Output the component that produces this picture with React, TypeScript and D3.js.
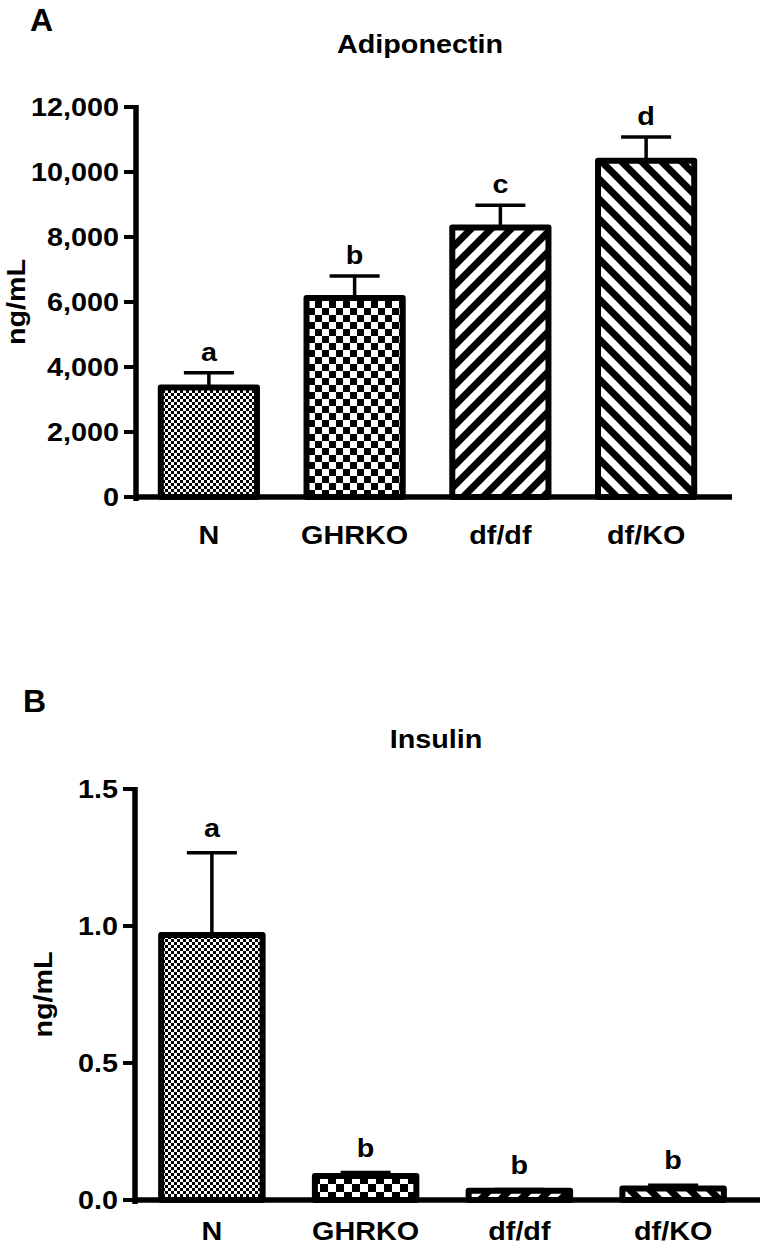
import React from "react";
import * as d3 from "d3";

// groups shared by both panels
const groups = ["N", "GHRKO", "df/df", "df/KO"];
const patternKeys = ["fine", "coarse", "fwd", "back"];

// Panel A: adiponectin (ng/mL)
const adipoMean = [3370, 6120, 8290, 10350];
const adipoSem = [450, 680, 690, 730];
const adipoLetters = ["a", "b", "c", "d"];
const adipoTicks = [0, 2000, 4000, 6000, 8000, 10000, 12000];

// Panel B: insulin (ng/mL)
const insulinMean = [0.967, 0.088, 0.034, 0.042];
const insulinSem = [0.3, 0.012, 0.004, 0.012];
const insulinLetters = ["a", "b", "b", "b"];
const insulinTicks = [0, 0.5, 1.0, 1.5];

const FONT = "'Liberation Sans', Arial, Helvetica, sans-serif";
const SX = 1.15; // the original text is a little wider than Arial

function Txt({ x, y, size = 25, anchor = "middle", rotate = 0, dy = "0", stretch = SX, children }: any) {
  return (
    <g transform={`translate(${x},${y}) rotate(${rotate}) scale(${stretch},1)`}>
      <text
        textAnchor={anchor}
        dy={dy}
        fontSize={size}
        fontWeight="bold"
        fontFamily={FONT}
        fill="#000"
      >
        {children}
      </text>
    </g>
  );
}

function Patterns({ id, fine, coarse, stripe }: any) {
  const p = stripe;
  return (
    <defs>
      <pattern id={`${id}-fine`} width={fine * 2} height={fine * 2} patternUnits="userSpaceOnUse">
        <rect width={fine * 2} height={fine * 2} fill="#fff" />
        <rect width={fine} height={fine} fill="#000" />
        <rect x={fine} y={fine} width={fine} height={fine} fill="#000" />
      </pattern>
      <pattern id={`${id}-coarse`} width={coarse * 2} height={coarse * 2} patternUnits="userSpaceOnUse">
        <rect width={coarse * 2} height={coarse * 2} fill="#fff" />
        <rect width={coarse} height={coarse} fill="#000" />
        <rect x={coarse} y={coarse} width={coarse} height={coarse} fill="#000" />
      </pattern>
      <pattern id={`${id}-fwd`} width={p} height={p} patternUnits="userSpaceOnUse">
        <rect width={p} height={p} fill="#fff" />
        <path
          d={`M0,${p} L${p},0 M${-p / 2},${p / 2} L${p / 2},${-p / 2} M${p / 2},${p * 1.5} L${p * 1.5},${p / 2}`}
          stroke="#000"
          strokeWidth={7}
        />
      </pattern>
      <pattern id={`${id}-back`} width={p} height={p} patternUnits="userSpaceOnUse">
        <rect width={p} height={p} fill="#fff" />
        <path
          d={`M0,0 L${p},${p} M${-p / 2},${p / 2} L${p / 2},${p * 1.5} M${p / 2},${-p / 2} L${p * 1.5},${p / 2}`}
          stroke="#000"
          strokeWidth={7}
        />
      </pattern>
    </defs>
  );
}

function Panel({
  id,
  panelLabel,
  panelLabelPos,
  title,
  titlePos,
  yLabelX,
  means,
  sems,
  letters,
  letterGap,
  ticks,
  fmt,
  yDomain,
  yRange,
  xRange,
  axisEnd,
  catY,
  fine,
  coarse,
}: any) {
  const x = d3.scaleBand().domain(groups).range(xRange).paddingInner(0.34).paddingOuter(0.17);
  const y = d3.scaleLinear().domain(yDomain).range(yRange);
  const axisX = xRange[0];
  const y0 = y(0);

  return (
    <g>
      <Patterns id={id} fine={fine} coarse={coarse} stripe={20} />
      <Txt x={panelLabelPos[0]} y={panelLabelPos[1]} size={32} anchor="start" stretch={1}>
        {panelLabel}
      </Txt>
      <Txt x={titlePos[0]} y={titlePos[1]}>{title}</Txt>
      <Txt x={yLabelX} y={(yRange[0] + yRange[1]) / 2} rotate={-90}>
        ng/mL
      </Txt>

      {/* error bars (upper only), drawn under the bars */}
      {groups.map((g, i) => {
        const cx = x(g)! + x.bandwidth() / 2;
        const top = y(means[i] + sems[i]);
        return (
          <g key={g} stroke="#000" strokeWidth={3.5}>
            <line x1={cx} x2={cx} y1={y(means[i])} y2={top} />
            <line x1={cx - 25} x2={cx + 25} y1={top} y2={top} />
          </g>
        );
      })}

      {groups.map((g, i) => (
        <rect
          key={g}
          x={x(g)}
          y={y(means[i])}
          width={x.bandwidth()}
          height={y0 - y(means[i])}
          fill={`url(#${id}-${patternKeys[i]})`}
          stroke="#000"
          strokeWidth={6}
          strokeLinejoin="round"
        />
      ))}

      {groups.map((g, i) => (
        <Txt key={g} x={x(g)! + x.bandwidth() / 2} y={y(means[i] + sems[i]) - letterGap}>
          {letters[i]}
        </Txt>
      ))}

      {/* axes */}
      <line x1={axisX} x2={axisX} y1={y0 + 4} y2={y(yDomain[1]) - 2} stroke="#000" strokeWidth={5.5} />
      <line x1={axisX} x2={axisEnd} y1={y0} y2={y0} stroke="#000" strokeWidth={5.5} />
      {ticks.map((t: number) => (
        <g key={t}>
          <line x1={axisX - 12} x2={axisX} y1={y(t)} y2={y(t)} stroke="#000" strokeWidth={4} />
          <Txt x={axisX - 17} y={y(t)} anchor="end" dy="0.36em">
            {fmt(t)}
          </Txt>
        </g>
      ))}
      {groups.map((g) => (
        <Txt key={g} x={x(g)! + x.bandwidth() / 2} y={catY}>
          {g}
        </Txt>
      ))}
    </g>
  );
}

export default function App() {
  return (
    <div style={{ position: "absolute", left: 0, top: 0 }}>
      <svg width={760} height={1247} style={{ display: "block", background: "#fff" }}>
        <Panel
          id="a"
          panelLabel="A"
          panelLabelPos={[30, 31]}
          title="Adiponectin"
          titlePos={[420, 53]}
          yLabelX={25}
          means={adipoMean}
          sems={adipoSem}
          letters={adipoLetters}
          letterGap={12}
          ticks={adipoTicks}
          fmt={d3.format(",")}
          yDomain={[0, 12000]}
          yRange={[497, 107]}
          xRange={[136, 719]}
          axisEnd={732}
          catY={544}
          fine={3}
          coarse={7}
        />
        <Panel
          id="b"
          panelLabel="B"
          panelLabelPos={[23, 712]}
          title="Insulin"
          titlePos={[436, 748]}
          yLabelX={52}
          means={insulinMean}
          sems={insulinSem}
          letters={insulinLetters}
          letterGap={16}
          ticks={insulinTicks}
          fmt={d3.format(".1f")}
          yDomain={[0, 1.5]}
          yRange={[1200, 789]}
          xRange={[135, 750]}
          axisEnd={760}
          catY={1240}
          fine={3}
          coarse={8}
        />
      </svg>
    </div>
  );
}
